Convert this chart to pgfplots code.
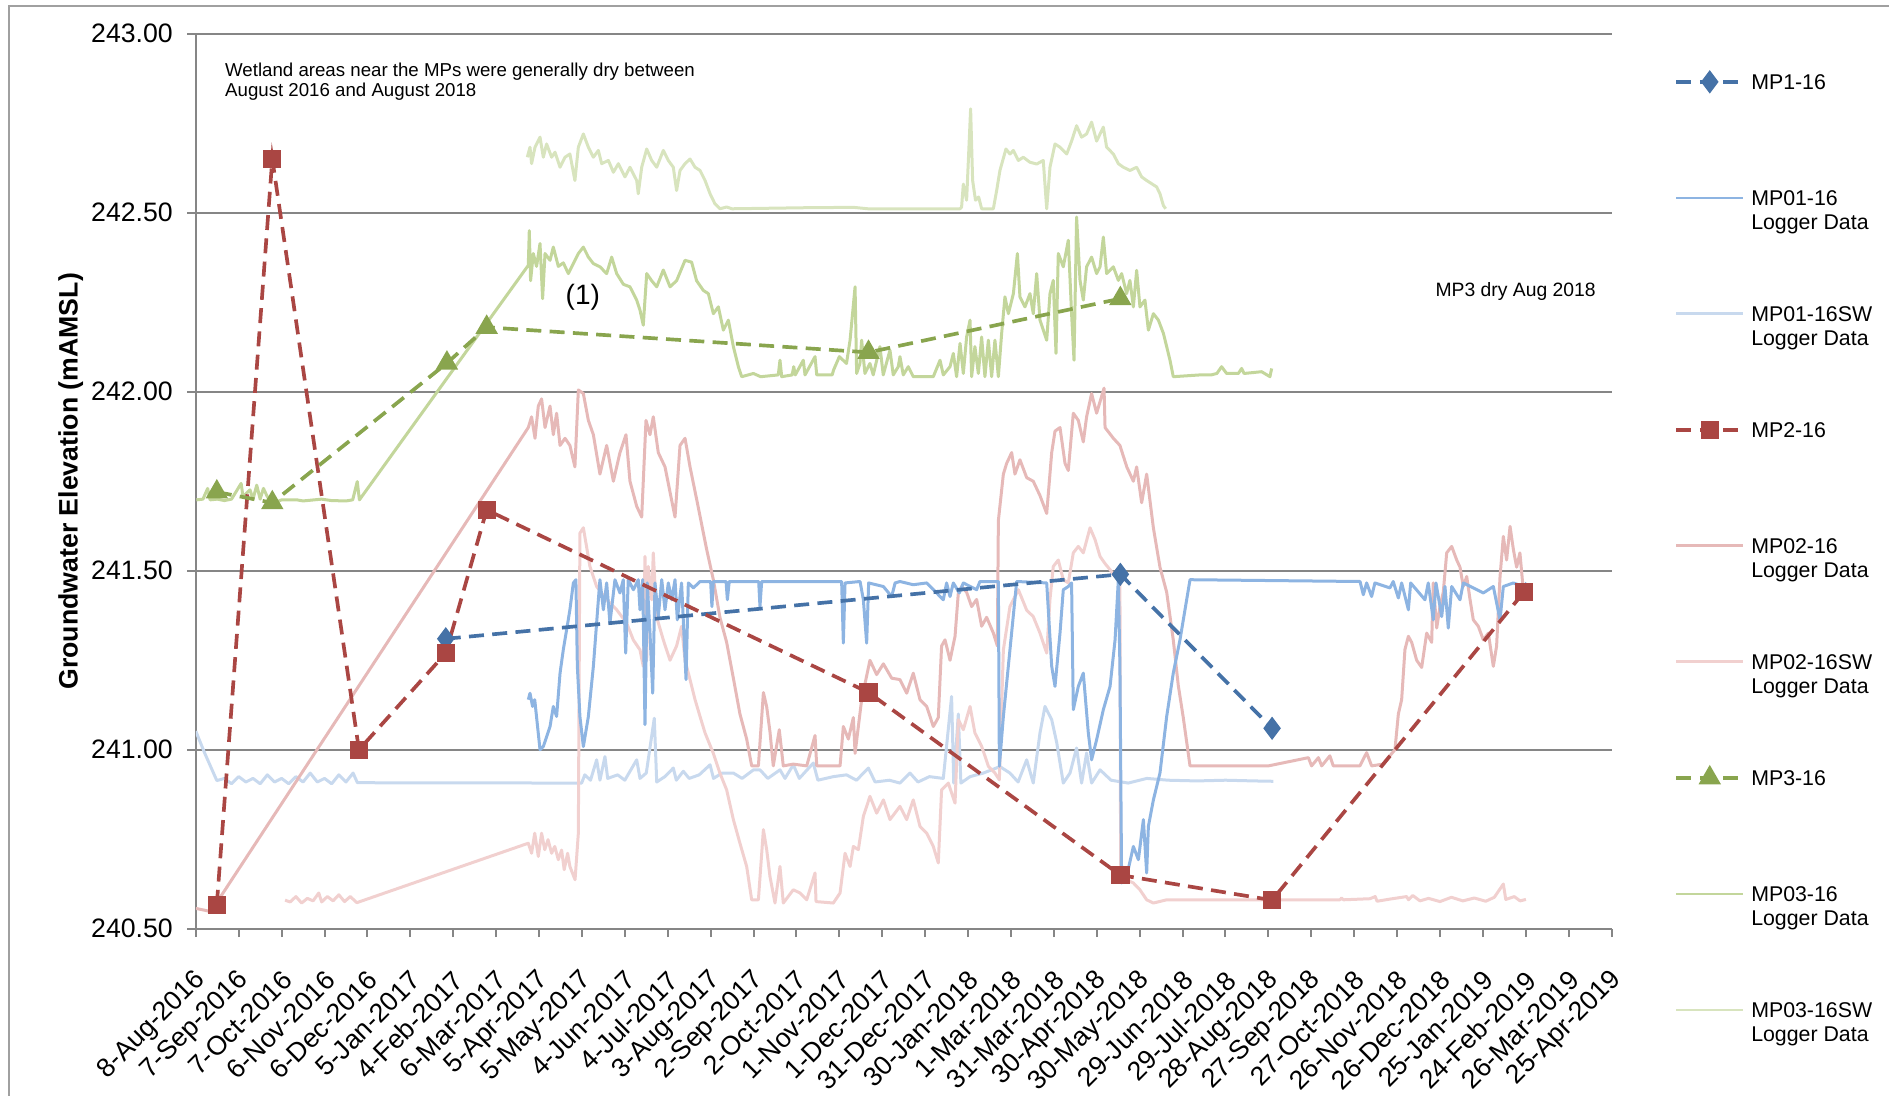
\documentclass[border=0pt]{standalone}
\usepackage{pgfplots}
\pgfplotsset{compat=1.18}
\usepackage{pgfplotstable}
\usepackage{fontspec}
\setmainfont{Liberation Sans}

\definecolor{mpone}{RGB}{69,114,167}
\definecolor{mponelog}{RGB}{141,180,226}
\definecolor{mponesw}{RGB}{200,217,238}
\definecolor{mptwo}{RGB}{170,70,67}
\definecolor{mptwolog}{RGB}{230,185,184}
\definecolor{mptwosw}{RGB}{241,208,207}
\definecolor{mpthree}{RGB}{137,165,78}
\definecolor{mpthreelog}{RGB}{195,214,155}
\definecolor{mpthreesw}{RGB}{216,228,190}
\definecolor{axgray}{RGB}{134,134,134}
\definecolor{bordergray}{RGB}{160,160,160}

\newcommand{\twoline}[2]{\vtop{\hbox{#1}\hbox{#2}}}

% manual readings: day (since 8-Aug-2016)  elevation (mAMSL)
\pgfplotstableread{
x y
174.8 241.31
646.5 241.49
752.6 241.06
}\mpOne
\pgfplotstableread{
x y
14.7 240.567
53.5 242.65
114.1 241.00
174.8 241.27
203.4 241.67
470.4 241.16
646.5 240.65
752.6 240.58
928.6 241.44
}\mpTwo
\pgfplotstableread{
x y
14.7 241.72
53.5 241.69
175.6 242.08
203.4 242.18
470.4 242.11
646.5 242.26
}\mpThree

\pgfplotstableread{
x y
0 241.052
6.3 240.99
14.7 240.914
20 240.92
25 240.905
30 240.925
35 240.91
40 240.92
45 240.905
50 240.93
55 240.91
60 240.92
65 240.905
70 240.925
75 240.91
80 240.935
85 240.91
90 240.92
95 240.905
100 240.93
105 240.91
110 240.935
113 240.908
269.8 240.907
272 240.93
276 240.915
280.3 240.972
282.6 240.915
286.1 240.981
288 240.92
295 240.93
300 240.915
308.3 240.972
310.6 240.92
315 240.935
320.6 241.088
322.3 240.91
328 240.925
333.9 240.949
336 240.915
340.9 240.94
345 240.92
352 240.93
359.6 240.958
362 240.92
368 240.935
375.9 240.935
382 240.92
390 240.944
394.5 240.944
400 240.92
408.5 240.944
412 240.92
417.8 240.958
422 240.92
431.8 240.963
435 240.915
445.8 240.925
455 240.93
462 240.915
470.3 240.949
475 240.91
485 240.915
492.4 240.907
499.4 240.935
505 240.91
513 240.925
522.7 240.92
528.5 241.149
530 240.907
533.2 241.10
535 240.907
541.4 240.925
550.7 240.935
562.3 240.953
569.3 240.935
575 240.91
581 240.972
585.6 240.907
590.3 241.047
593.8 241.121
598.5 241.084
602 241.02
606.6 240.907
611.3 240.935
615.9 241.005
619.4 240.907
622.9 240.991
626.4 240.907
632.3 240.944
640 240.915
652 240.907
665 240.92
680 240.915
700 240.913
720 240.915
740 240.913
753.5 240.912
}\mpOneSW

\pgfplotstableread{
x y
232.5 241.14
233.7 241.158
235.5 241.121
237 241.14
240.7 241.0
243 241.009
247.7 241.065
250 241.121
252.3 241.093
254.7 241.214
257 241.28
259.3 241.335
261.6 241.391
264 241.466
265.8 241.475
266.8 241.233
268.6 241.093
271 241.009
274.5 241.093
278 241.233
281.5 241.419
282.6 241.475
285 241.391
287.3 241.466
289.6 241.354
293.1 241.475
296.6 241.438
298.9 241.475
300.6 241.27
302.4 241.475
306 241.447
309.4 241.475
310.6 241.391
312.5 241.475
314.1 241.07
315.7 241.466
317.6 241.326
319.5 241.158
321.1 241.466
323.4 241.372
325.8 241.475
328.1 241.391
330.4 241.466
332.8 241.419
335.1 241.475
336.7 241.363
339.7 241.466
342.8 241.196
344.4 241.466
347.9 241.452
352.6 241.47
360 241.47
360.9 241.4
361.9 241.47
370.8 241.47
371.7 241.419
373 241.47
393.6 241.47
394.5 241.4
395.7 241.47
451.6 241.47
452.8 241.298
454 241.466
464.5 241.47
466.8 241.419
469.1 241.298
470.5 241.466
480.8 241.456
486.6 241.428
489 241.466
492.4 241.47
501.7 241.461
511.1 241.466
522.7 241.419
525 241.466
527.4 241.428
529.7 241.466
533.9 241.438
536.7 241.466
546 241.447
548.3 241.47
561.2 241.47
561.9 240.954
564.7 241.093
569.3 241.279
574 241.47
595 241.466
598.5 241.233
600.8 241.177
604.3 241.326
606.6 241.447
610.1 241.456
612.4 241.466
613.6 241.112
617.1 241.177
620.6 241.214
624.1 241.047
626.4 240.972
629.9 241.028
634.6 241.112
639.3 241.177
642.8 241.307
645.1 241.475
646.2 241.233
647.4 240.628
650.9 240.646
655.6 240.73
659.1 240.693
662.6 240.805
664.9 240.656
666.1 240.786
669.6 240.86
674.2 240.935
678.9 241.093
683.5 241.214
688.2 241.307
691.7 241.391
695.2 241.475
814.1 241.47
816.4 241.433
818.7 241.466
822.2 241.428
824.5 241.466
835 241.452
837.3 241.47
840.9 241.424
843.2 241.466
847.9 241.391
849.5 241.466
859.5 241.419
861.8 241.466
865.3 241.363
867.2 241.466
871.2 241.372
873.5 241.456
875.8 241.34
878.2 241.456
884 241.419
886.3 241.466
893.3 241.452
900.3 241.438
907.3 241.456
912 241.363
914.3 241.456
921.3 241.466
928.3 241.456
930.6 241.466
}\mpOneLog

\pgfplotstableread{
x y
0 240.557
6 240.552
10.5 240.548
232.5 241.90
234.8 241.93
237.2 241.87
239.5 241.96
241.8 241.98
244.2 241.90
247.7 241.96
250 241.88
252.3 241.94
254.7 241.85
258.2 241.87
261.6 241.85
265.1 241.79
267.5 242.005
271 241.995
274.5 241.92
278 241.88
282.6 241.77
287.3 241.85
292 241.75
296.6 241.83
300.8 241.88
303.6 241.75
308.3 241.68
311.8 241.65
314.8 241.92
317.6 241.88
319.9 241.93
323.4 241.83
328.1 241.79
331.6 241.72
335.1 241.65
338.6 241.85
342.1 241.87
345.6 241.79
350.2 241.70
353.7 241.63
357.2 241.56
361.9 241.475
366.5 241.37
371.2 241.30
375.9 241.20
380.5 241.10
385.2 241.03
388.7 240.955
393.4 240.955
396.9 241.16
399.2 241.12
401.5 241.05
403.8 240.955
408 241.056
410.8 240.955
417.8 240.96
427.2 240.955
433 241.04
434.2 240.955
450.5 240.955
452.8 241.065
456.3 241.03
459.8 241.09
461 240.99
465.6 241.14
471.4 241.25
476.1 241.21
480.8 241.24
486.6 241.20
492.4 241.196
497.1 241.158
501.7 241.214
506.4 241.14
511.1 241.121
515.7 241.065
519.2 241.09
521.5 241.29
523.9 241.307
527.4 241.25
530.9 241.317
533.2 241.438
535.5 241.456
539 241.44
542.5 241.40
546 241.42
549.5 241.345
553 241.37
557.7 241.326
560.5 241.29
561.2 241.64
564.7 241.77
567 241.80
570.5 241.83
572.8 241.77
576.3 241.81
581 241.76
585.6 241.75
590.3 241.71
595 241.66
598.5 241.83
600.8 241.89
604.3 241.90
607.8 241.80
610.1 241.78
613.6 241.94
617.1 241.92
620.6 241.86
622.9 241.93
626.4 241.995
629.9 241.94
635.1 242.01
635.8 241.90
641.6 241.87
646.2 241.85
651 241.79
655.6 241.75
657.9 241.79
661.4 241.69
664.9 241.77
669.6 241.62
674.2 241.51
678.9 241.44
683.5 241.307
687 241.18
690.5 241.09
695.2 240.955
750 240.955
778 240.978
780.2 240.955
785 240.978
787.3 240.955
793 240.983
795.4 240.955
814 240.955
818.7 240.992
822.2 240.955
830 240.96
838.5 241.0
840.9 241.10
843.2 241.14
845.5 241.28
847.9 241.317
850.2 241.30
853.7 241.25
857.2 241.23
860.7 241.326
864.2 241.30
865.3 241.466
867.7 241.34
870 241.40
872.3 241.44
874.7 241.55
878.2 241.568
881.7 241.53
884 241.51
886.3 241.456
888.7 241.484
891 241.42
893.3 241.363
896.8 241.345
900.3 241.307
903.8 241.326
907.3 241.233
909.6 241.29
912 241.484
914.3 241.596
916.6 241.53
919 241.624
921.3 241.56
923.6 241.51
925.9 241.55
927.8 241.466
928.7 241.44
}\mpTwoLog

\pgfplotstableread{
x y
62.4 240.58
66 240.575
70 240.59
74 240.572
78 240.585
82 240.578
86 240.6
88 240.575
92 240.59
96 240.578
100 240.595
104 240.576
108 240.59
112.6 240.573
232.5 240.739
234.8 240.711
237 240.767
239.5 240.702
241.8 240.767
244 240.721
246.3 240.749
248.8 240.711
251 240.73
253.5 240.693
255.8 240.72
257.6 240.665
260 240.711
261.6 240.674
265.2 240.637
267.5 240.767
268.6 241.605
271 241.62
275.6 241.512
280.3 241.456
287.3 241.419
294.3 241.391
301.3 241.354
305.9 241.307
310.6 241.279
312.9 241.233
314.1 241.54
315.3 241.25
316.4 241.512
318.8 241.419
319.9 241.55
322.3 241.37
326.9 241.307
331.6 241.25
336.2 241.29
339.7 241.345
342.1 241.25
345.6 241.196
349.1 241.14
352.6 241.093
356.1 241.047
361.9 240.99
366.5 240.935
371.2 240.888
375.9 240.805
380.5 240.739
385.2 240.674
388.7 240.581
393.4 240.581
396.9 240.777
399.2 240.721
401.5 240.646
405 240.572
408.5 240.674
410.8 240.572
417.8 240.609
422.5 240.6
427.2 240.581
433 240.656
433.7 240.576
445.8 240.572
450.5 240.6
454 240.711
457.5 240.674
459.8 240.73
463.3 240.721
466.8 240.814
471.4 240.87
476.1 240.823
480.8 240.86
485.4 240.805
492.4 240.842
497.1 240.805
501.7 240.86
506.4 240.786
511.1 240.767
515.7 240.73
519.2 240.684
521.5 240.888
526.2 240.907
530.9 240.851
533.2 241.084
536.7 241.056
541.4 241.121
544.8 241.047
549.5 241.01
554.2 240.954
558.8 240.935
561.9 240.916
564.7 241.279
569.3 241.40
575.2 241.447
581 241.39
585.6 241.372
590.3 241.326
595 241.27
597.3 241.42
599.6 241.512
603.1 241.53
606.6 241.475
610.1 241.466
613.6 241.55
617.1 241.568
620.6 241.55
625.3 241.62
628.8 241.587
632.3 241.54
635.8 241.52
639.3 241.503
642.8 241.484
646.2 241.484
646.7 240.656
650.9 240.637
655.6 240.628
660.2 240.609
664.9 240.581
669.6 240.572
678.9 240.581
800 240.581
801.2 240.586
802.5 240.581
821 240.584
824.7 240.59
826 240.577
835 240.583
846.7 240.59
848 240.581
851 240.593
856 240.578
862 240.585
870 240.576
878 240.588
886 240.578
894 240.586
902 240.577
908 240.588
914.3 240.625
916 240.582
922 240.59
926 240.578
930.1 240.582
}\mpTwoSW

\pgfplotstableread{
x y
0.4 241.698
5 241.7
8.3 241.73
10 241.698
15 241.7
20 241.696
25 241.7
31.7 241.744
33 241.707
37.9 241.726
40 241.7
42.6 241.739
45 241.7
47.3 241.73
50 241.707
53.5 241.688
60 241.698
70.7 241.698
75 241.695
87.9 241.7
95 241.696
105 241.695
109.7 241.698
112.9 241.749
114.4 241.698
232.5 242.353
233.2 242.45
234.1 242.31
236 242.386
238.3 242.35
240.7 242.414
242.5 242.26
244.2 242.386
247.7 242.367
250 242.404
253.5 242.35
257 242.36
260.5 242.33
264 242.358
267.5 242.386
271 242.404
274.5 242.376
278 242.358
282.6 242.349
287.3 242.33
290.8 242.376
294.3 242.33
299 242.30
303.6 242.293
308.3 242.256
310.6 242.228
312.9 242.186
315.3 242.33
318.8 242.31
322.3 242.293
326.9 242.34
331.6 242.293
336.2 242.31
342.1 242.367
346.7 242.362
350.2 242.31
354.9 242.283
358.4 242.274
361.9 242.218
365.4 242.237
368.9 242.172
372.4 242.2
375.9 242.126
379.4 242.07
381.7 242.042
389.9 242.051
395 242.042
407.3 242.047
408.5 242.088
409.7 242.042
417 242.047
418.1 242.07
419.2 242.047
424.8 242.088
426 242.047
433 242.098
434.2 242.047
445 242.047
446 242.061
450 242.098
455 242.079
457.5 242.144
461 242.293
462.1 242.051
464.4 242.079
465.6 242.144
467.9 242.051
471.4 242.079
473.7 242.047
478.4 242.126
480.7 242.047
485.4 242.116
487.7 242.047
491.2 242.07
492.4 242.098
494.7 242.047
498.2 242.07
501.7 242.042
515.7 242.042
520.4 242.088
522.7 242.047
527.4 242.07
529.7 242.107
532 242.042
534.4 242.135
536.7 242.051
539 242.153
541.4 242.2
542.5 242.042
544.8 242.126
547.2 242.051
549.5 242.153
551.8 242.042
554.2 242.144
556.5 242.042
558.8 242.144
561.2 242.042
563.5 242.163
565.8 242.265
568.2 242.218
571.7 242.274
574.5 242.386
576.3 242.265
579.8 242.237
583.3 242.274
585.6 242.218
588 242.33
590.3 242.2
595 242.144
597.3 242.274
599.6 242.311
601.5 242.107
603.1 242.386
606.6 242.349
610.1 242.423
612.4 242.218
614.1 242.088
615.9 242.488
618.3 242.311
620.6 242.256
622.9 242.349
626.4 242.376
629.9 242.33
632.3 242.349
634.6 242.432
636.9 242.33
641.6 242.349
645.1 242.311
647.4 242.33
650.9 242.274
653.2 242.311
655.6 242.237
657.9 242.339
660.2 242.237
663.7 242.256
666.1 242.172
669.6 242.218
673.1 242.2
676.6 242.163
678.9 242.126
681.2 242.088
683.5 242.042
702.2 242.047
710 242.047
714 242.051
717.3 242.07
720.8 242.051
729 242.051
731.3 242.065
733 242.051
745.3 242.056
751.1 242.042
752.3 242.065
}\mpThreeLog

\pgfplotstableread{
x y
231.8 242.655
233.7 242.683
234.8 242.637
237.2 242.683
240.7 242.711
243 242.655
245.3 242.692
248.8 242.655
251.2 242.669
254.7 242.627
258.2 242.655
261.6 242.664
265.1 242.59
267.5 242.683
271 242.72
274.5 242.683
278 242.655
281.5 242.674
283.8 242.637
288.5 242.646
292 242.613
295.5 242.637
300.1 242.6
303.6 242.627
308.3 242.59
309.4 242.553
311.8 242.627
315.3 242.678
318.8 242.646
322.3 242.627
326.9 242.674
330.4 242.646
333.9 242.627
336.2 242.562
338.6 242.618
342.1 242.637
345.6 242.65
349.1 242.627
352.6 242.618
356.1 242.59
359.6 242.553
363 242.525
366.5 242.511
371.2 242.516
375 242.511
427 242.514
460 242.515
470 242.511
534.4 242.511
535.5 242.516
536.7 242.58
539 242.535
541.8 242.79
543.2 242.59
545.2 242.535
547.4 242.544
549.5 242.511
557.7 242.511
560 242.562
562.3 242.618
566.5 242.678
569.3 242.664
571.7 242.674
575.2 242.646
578.6 242.655
583.3 242.641
588 242.636
592.6 242.646
595 242.511
597.3 242.627
600.8 242.692
604.3 242.683
609 242.664
612.4 242.7
615.9 242.743
619.4 242.711
622.9 242.72
626.4 242.753
629.9 242.7
634.6 242.739
636.9 242.683
641.6 242.664
645.1 242.637
648.6 242.627
653.2 242.618
657.9 242.627
661.4 242.6
664.9 242.59
668.4 242.581
671.9 242.572
674.2 242.553
676.6 242.52
678.2 242.511
}\mpThreeSW

\begin{document}
\begin{tikzpicture}
\useasboundingbox (-58.74bp,-50.16bp) rectangle (507.96bp,278.64bp);
\draw[bordergray, line width=0.6bp] (-56.04bp,-52bp) -- (-56.04bp,276.8bp) -- (510bp,276.8bp);
\begin{axis}[
  scale only axis, width=424.74bp, height=268.53bp,
  xmin=0, xmax=990, ymin=240.5, ymax=243,
  axis x line*=bottom, axis y line*=left,
  axis line style={-, axgray, line width=0.6bp},
  xtick={0,30,...,990},
  xticklabels={8-Aug-2016,7-Sep-2016,7-Oct-2016,6-Nov-2016,6-Dec-2016,5-Jan-2017,4-Feb-2017,6-Mar-2017,5-Apr-2017,5-May-2017,4-Jun-2017,4-Jul-2017,3-Aug-2017,2-Sep-2017,2-Oct-2017,1-Nov-2017,1-Dec-2017,31-Dec-2017,30-Jan-2018,1-Mar-2018,31-Mar-2018,30-Apr-2018,30-May-2018,29-Jun-2018,29-Jul-2018,28-Aug-2018,27-Sep-2018,27-Oct-2018,26-Nov-2018,26-Dec-2018,25-Jan-2019,24-Feb-2019,26-Mar-2019,25-Apr-2019},
  ytick={240.5,241,241.5,242,242.5,243},
  yticklabels={240.50,241.00,241.50,242.00,242.50,243.00},
  tick align=outside, major tick length=2.5bp,
  tick style={axgray, line width=0.6bp},
  ymajorgrids, grid style={axgray, line width=0.6bp},
  tick label style={font=\fontsize{8bp}{9.6bp}\selectfont},
  xticklabel style={inner sep=0pt, anchor=east, xshift=1.8bp, yshift=-11.5bp, rotate=45},
  yticklabel style={inner sep=0pt, anchor=east, xshift=-4.2bp},
  ylabel={Groundwater Elevation (mAMSL)},
  every axis y label/.style={at={(axis description cs:0,0.5)}, xshift=-37.5bp, rotate=90, anchor=center, font=\bfseries\fontsize{8bp}{9.6bp}\selectfont},
  legend style={at={(1,1)}, anchor=north west, xshift=18.9bp, yshift=-11.74bp,
    draw=none, fill=none, inner sep=0pt, outer sep=0pt,
    row sep=20.785bp, column sep=1.9bp,
    font=\fontsize{6.4bp}{7.2bp}\selectfont,
    cells={anchor=base west},
    nodes={inner sep=0pt, text height=5bp, text depth=9bp}},
  legend image code/.code={\draw[mark repeat=2,mark phase=2,#1] plot coordinates {(0bp,2.3bp) (10bp,2.3bp) (20bp,2.3bp)};},
]
% logger data
\addplot[mponesw, line width=0.9bp, line join=round, forget plot] table {\mpOneSW};
\addplot[mpthreesw, line width=0.9bp, line join=round, forget plot] table {\mpThreeSW};
\addplot[mpthreelog, line width=0.9bp, line join=round, forget plot] table {\mpThreeLog};
\addplot[mptwosw, line width=0.9bp, line join=round, forget plot] table {\mpTwoSW};
\addplot[mptwolog, line width=0.9bp, line join=round, forget plot] table {\mpTwoLog};
\addplot[mponelog, line width=0.9bp, line join=round, forget plot] table {\mpOneLog};
% manual readings
\addplot[mpone, line width=1.1bp, dash pattern=on 4.5bp off 2.5bp, mark=diamond*, mark size=2.6bp, mark options={solid, fill=mpone}, forget plot] table {\mpOne};
\addplot[mptwo, line width=1.1bp, dash pattern=on 4.5bp off 2.5bp, mark=square*, mark size=2.2bp, mark options={solid, fill=mptwo}, forget plot] table {\mpTwo};
\addplot[mpthree, line width=1.1bp, dash pattern=on 4.5bp off 2.5bp, mark=triangle*, mark size=2.8bp, mark options={solid, fill=mpthree}, forget plot] table {\mpThree};

\addlegendimage{mpone, line width=1.1bp, dash pattern=on 4.5bp off 2.5bp, mark=diamond*, mark size=2.6bp, mark options={solid, fill=mpone}}
\addlegendentry{MP1-16}
\addlegendimage{mponelog, line width=0.75bp}
\addlegendentry{\twoline{MP01-16}{Logger Data}}
\addlegendimage{mponesw, line width=0.75bp}
\addlegendentry{\twoline{MP01-16SW}{Logger Data}}
\addlegendimage{mptwo, line width=1.1bp, dash pattern=on 4.5bp off 2.5bp, mark=square*, mark size=2.2bp, mark options={solid, fill=mptwo}}
\addlegendentry{MP2-16}
\addlegendimage{mptwolog, line width=0.75bp}
\addlegendentry{\twoline{MP02-16}{Logger Data}}
\addlegendimage{mptwosw, line width=0.75bp}
\addlegendentry{\twoline{MP02-16SW}{Logger Data}}
\addlegendimage{mpthree, line width=1.1bp, dash pattern=on 4.5bp off 2.5bp, mark=triangle*, mark size=2.8bp, mark options={solid, fill=mpthree}}
\addlegendentry{MP3-16}
\addlegendimage{mpthreelog, line width=0.75bp}
\addlegendentry{\twoline{MP03-16}{Logger Data}}
\addlegendimage{mpthreesw, line width=0.75bp}
\addlegendentry{\twoline{MP03-16SW}{Logger Data}}

\node[anchor=base west, inner sep=0pt, font=\fontsize{5.6bp}{6.7bp}\selectfont] at (axis cs:20.1,242.88) {Wetland areas near the MPs were generally dry between};
\node[anchor=base west, inner sep=0pt, font=\fontsize{5.6bp}{6.7bp}\selectfont] at (axis cs:20.1,242.824) {August 2016 and August 2018};
\node[anchor=base west, inner sep=0pt, font=\fontsize{8.4bp}{10bp}\selectfont] at (axis cs:258.2,242.245) {(1)};
\node[anchor=base west, inner sep=0pt, font=\fontsize{5.8bp}{7bp}\selectfont] at (axis cs:866.5,242.267) {MP3 dry Aug 2018};
\end{axis}
\end{tikzpicture}
\end{document}
